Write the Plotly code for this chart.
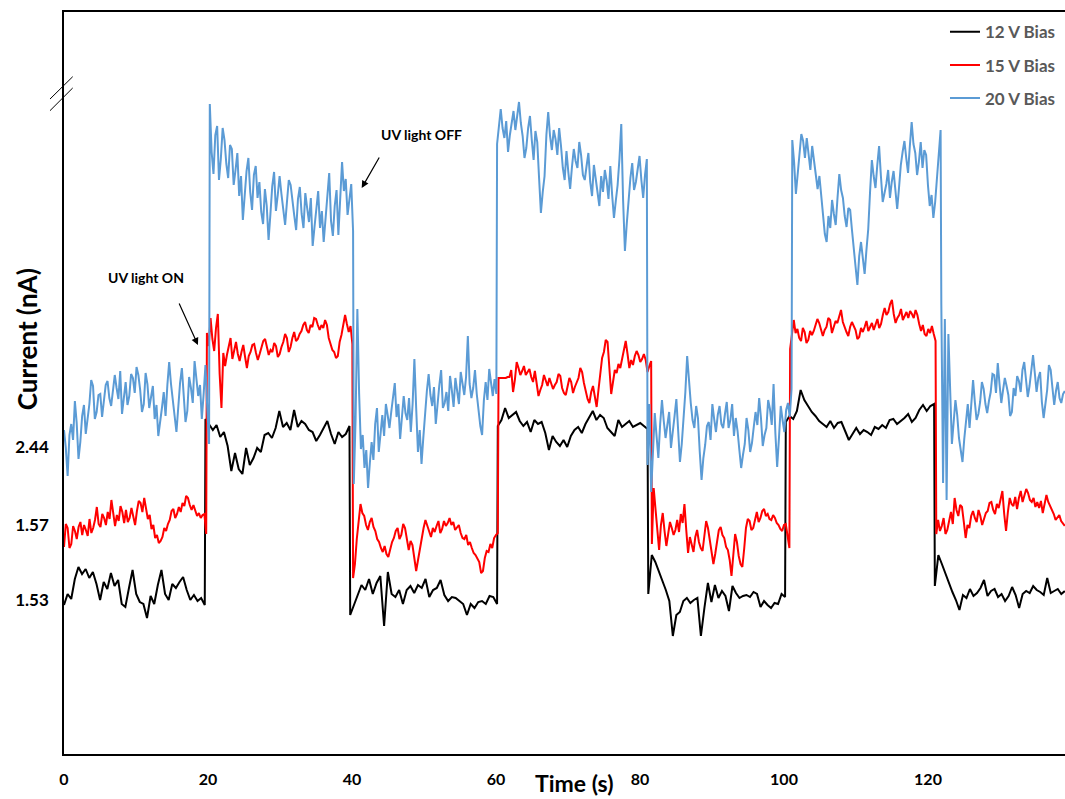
import numpy as np
import plotly.graph_objects as go

# ---------------- data ----------------
# y is expressed in the chart's own (broken) linear scale; the three tick labels
# printed on the original axis are placed at their positions on that scale.
SERIES_NAMES = ["12 V Bias", "15 V Bias", "20 V Bias"]
SERIES_COLORS = ["#000000", "#FF0000", "#5B9BD5"]

Y_TICK_POSITIONS = [15.4, 22.85, 30.7]
Y_TICK_LABELS = ["1.53", "1.57", "2.44"]
X_TICKS = [0, 20, 40, 60, 80, 100, 120]

# switching instants (s) of each trace: start, light on/off edges, end
BIAS12_EDGES = [0, 19.6, 39.7, 60.2, 81.1, 100.2, 120.9, 139.0]
BIAS15_EDGES = [0, 19.8, 40.1, 60.3, 81.6, 100.8, 121.1, 139.0]
BIAS20_EDGES = [0, 20.2, 40.2, 60.1, 81.0, 101.1, 121.8, 139.0]

# 12 V bias (black) - values between successive edges
BIAS12_SEGMENTS = [
    [14.9, 16.0, 15.5, 17.5, 18.7, 18.0, 18.5, 17.6, 18.2, 17.0,
     15.4, 17.2, 16.5, 18.1, 16.8, 17.4, 15.0, 14.7, 16.6, 18.4,
     16.0, 15.2, 15.0, 13.6, 15.8, 15.0, 16.9, 18.4, 16.0, 15.4,
     17.0, 16.6, 17.2, 17.7, 16.4, 15.4, 15.9, 15.3, 15.6, 14.9],
    [33.5, 33.0, 32.4, 32.9, 31.7, 32.2, 30.8, 28.3, 30.1, 28.5,
     28.0, 30.6, 28.9, 29.6, 30.6, 30.2, 31.9, 32.1, 31.6, 32.6,
     34.3, 32.7, 33.1, 32.4, 34.4, 32.7, 33.3, 33.0, 32.4, 32.2,
     31.3, 31.9, 32.6, 33.3, 32.0, 31.0, 32.2, 31.7, 32.0, 32.8],
    [13.9, 14.9, 15.9, 16.9, 16.4, 17.5, 16.0, 17.1, 17.8, 12.8,
     18.2, 16.0, 15.7, 16.4, 15.0, 16.4, 16.8, 16.1, 16.9, 16.6,
     17.5, 15.7, 16.4, 16.6, 17.4, 15.9, 15.3, 15.7, 15.6, 15.3,
     15.0, 13.9, 15.0, 14.6, 15.2, 15.3, 15.0, 15.8, 15.7, 15.0],
    [32.8, 33.4, 34.6, 33.6, 33.9, 34.2, 33.3, 32.8, 33.2,
     32.2, 33.4, 33.0, 33.2, 32.1, 30.4, 31.8, 31.2, 30.8, 31.4,
     30.7, 31.8, 32.4, 32.7, 32.1, 33.0, 33.6, 34.3, 33.4, 33.9,
     33.6, 32.6, 32.2, 31.8, 33.4, 32.7, 33.0, 33.3, 32.7, 32.9,
     33.1, 32.8, 32.5],
    [16.0, 19.9, 19.2, 18.3, 17.3, 16.4, 15.3, 11.8, 13.9, 14.2, 15.3, 15.6,
     15.1, 15.4, 15.6, 11.8, 14.6, 17.1, 15.2, 16.9, 15.6, 16.3,
     15.8, 14.3, 16.8, 16.1, 15.6, 15.8, 15.9, 15.7, 16.2, 16.0,
     14.7, 15.3, 14.9, 14.6, 15.1, 15.0, 16.0, 15.7],
    [33.2, 33.8, 33.5, 34.3, 36.4, 35.4, 34.8, 34.2, 33.8, 33.3,
     33.0, 32.7, 33.3, 32.6, 33.1, 33.2, 32.3, 31.4, 32.0, 32.6,
     32.0, 32.4, 32.2, 31.9, 32.7, 32.5, 32.9, 32.6, 33.4, 33.5,
     33.0, 33.3, 33.6, 34.0, 33.2, 33.6, 34.4, 34.9, 34.3, 34.8,
     35.0],
    [16.8, 19.9, 19.0, 18.0, 17.0, 16.2, 15.4, 14.4, 15.9, 15.6, 16.5,
     15.8, 16.1, 16.6, 17.4, 15.8, 16.3, 16.5, 15.7, 16.0, 15.3,
     15.8, 16.7, 15.9, 14.6, 16.0, 16.3, 16.1, 16.8, 16.4, 16.2,
     15.9, 17.6, 16.1, 16.3, 16.5, 16.0, 16.3],
]

# 15 V bias (red)
BIAS15_SEGMENTS = [
    [20.7, 23.0, 22.6, 20.6, 21.0, 22.8, 22.3, 21.5, 22.7, 23.2,
     21.9, 22.9, 22.4, 21.8, 23.5, 22.1, 22.6, 23.4, 24.7, 23.0,
     22.7, 24.0, 23.6, 22.9, 24.2, 23.5, 25.4, 24.0, 22.8, 23.9,
     23.3, 24.8, 24.2, 23.1, 24.4, 23.2, 23.6, 24.6, 23.8, 22.9,
     24.3, 25.3, 25.1, 24.2, 25.6, 24.6, 23.5, 23.9, 22.5, 22.9,
     21.6, 21.9, 21.1, 21.3, 21.7, 22.6, 22.3, 23.0, 23.4, 24.3,
     24.5, 23.6, 24.0, 24.7, 24.2, 25.1, 24.8, 25.8, 25.6, 24.9,
     24.4, 24.9, 24.3, 23.8, 24.1, 23.6, 23.9, 24.0, 22.0],
    [42.1, 40.8, 43.6, 41.5, 40.3, 42.6, 44.0, 38.0, 34.6, 40.1,
     38.8, 39.9, 40.9, 41.6, 39.5, 40.4, 41.2, 40.0, 39.3, 40.2,
     40.9, 39.7, 38.6, 39.8, 40.2, 40.9, 41.0, 40.1, 39.4, 40.0,
     40.6, 41.3, 41.5, 40.6, 39.9, 40.4, 40.2, 41.1, 40.8, 39.7,
     40.0, 40.7, 41.2, 42.0, 41.6, 40.2, 40.7, 41.6, 42.2, 41.3,
     41.5, 42.0, 42.3, 42.9, 43.2, 42.4, 42.1, 42.9, 42.7, 43.6,
     43.5, 42.9, 42.4, 42.9, 42.6, 43.4, 42.9, 41.6, 41.0, 40.4,
     40.2, 39.6, 39.8, 41.2, 41.9, 43.0, 43.9, 43.0, 42.2, 42.8,
     41.0],
    [17.6, 19.0, 21.5, 23.2, 25.0, 24.1, 23.8, 22.9, 22.4, 23.2,
     23.6, 22.7, 22.3, 21.5, 21.2, 20.6, 20.2, 20.8, 20.0, 19.7,
     20.6, 21.2, 21.6, 22.3, 22.6, 21.5, 21.9, 23.0, 22.6, 21.4,
     20.4, 21.3, 20.9, 19.6, 18.3, 19.4, 20.5, 21.9, 22.6, 23.4,
     22.9, 22.3, 21.7, 22.6, 22.2, 22.8, 23.3, 22.1, 22.5, 23.3,
     22.8, 23.1, 23.6, 22.9, 23.2, 22.4, 22.7, 22.9, 22.1, 21.6,
     21.5, 21.9, 20.9, 21.2, 20.6, 20.1, 19.9, 19.5, 19.2, 18.1,
     18.3, 19.6, 20.3, 20.2, 21.0, 20.6, 21.6, 21.9, 22.1],
    [37.6, 37.6, 37.6, 37.6, 37.6, 37.7, 37.7, 38.4, 36.2, 37.4,
     39.2, 38.6, 37.9, 38.3, 38.8, 37.9, 38.2, 38.5, 37.7, 37.2,
     38.3, 37.0, 35.8, 36.4, 36.9, 37.9, 37.3, 36.8, 37.6, 36.9,
     36.5, 36.9, 37.2, 38.0, 37.8, 36.6, 36.1, 35.9, 36.8, 37.6,
     37.2, 36.1, 36.7, 37.1, 37.6, 38.6, 38.2, 37.1, 36.2, 35.5,
     35.1, 36.2, 36.8, 35.6, 34.7, 36.4, 38.4, 39.6, 40.2, 41.4,
     41.2, 38.0, 36.0, 37.2, 38.4, 38.1, 39.0, 38.6, 39.6, 40.4,
     41.3, 40.0, 38.6, 39.4, 38.9, 39.8, 40.3, 39.9, 39.2, 39.5,
     40.0, 39.4, 38.2, 38.8, 39.3],
    [21.0, 26.6, 24.5, 22.0, 20.4, 22.9, 24.1, 22.3, 20.8, 22.0,
     23.2, 22.6, 21.9, 22.4, 23.4, 22.2, 24.0, 23.1, 25.0, 22.4,
     20.1, 21.7, 20.9, 20.2, 21.7, 22.4, 21.2, 20.6, 20.3, 21.6,
     23.3, 22.6, 21.5, 20.4, 19.0, 20.0, 21.2, 22.4, 22.7, 21.9,
     21.6, 20.7, 20.4, 19.4, 17.8, 20.0, 22.0, 21.2, 19.8, 19.0,
     18.7, 20.5, 22.6, 23.5, 23.3, 22.4, 22.6, 23.4, 24.2, 23.2,
     23.6, 24.3, 24.5, 23.8, 24.0, 23.5, 23.4, 23.9, 23.6, 23.1,
     22.9, 22.5, 22.3, 22.9, 23.0, 21.8, 20.6],
    [40.5, 42.0, 43.4, 42.1, 42.5, 41.6, 41.3, 42.6, 42.2, 41.1,
     41.4, 42.3, 41.9, 42.3, 42.8, 43.5, 43.1, 42.3, 41.8, 42.4,
     42.7, 43.6, 43.4, 42.1, 42.6, 43.3, 43.1, 43.8, 44.4, 43.2,
     42.6, 42.2, 41.8, 42.7, 43.2, 42.8, 42.4, 41.5, 41.7, 42.6,
     42.2, 42.7, 43.3, 42.3, 42.7, 43.1, 42.4, 42.9, 43.5, 42.6,
     43.0, 43.9, 44.6, 43.9, 44.2, 45.0, 45.4, 44.0, 43.1, 43.6,
     43.9, 44.5, 43.4, 43.8, 44.2, 43.6, 44.3, 44.0, 43.6, 44.4,
     43.9, 43.0, 42.3, 42.9, 42.0, 41.8, 42.5, 42.1, 42.8, 42.0,
     41.3],
    [22.0, 23.4, 22.3, 22.8, 23.6, 22.0, 22.4, 23.4, 24.2, 23.0,
     25.6, 24.4, 23.8, 24.9, 24.7, 23.2, 21.6, 22.9, 22.6, 23.8,
     24.3, 23.6, 23.2, 24.4, 23.8, 22.9, 23.4, 24.1, 24.3, 25.1,
     25.2, 24.4, 24.0, 25.0, 24.6, 25.4, 26.3, 24.0, 22.3, 24.2,
     25.6, 25.0, 24.8, 25.7, 24.5, 25.6, 26.3, 25.2, 25.8, 26.5,
     26.1, 25.4, 25.2, 25.6, 24.7, 25.2, 24.6, 25.3, 24.1, 25.0,
     25.9, 25.2, 24.8, 24.4, 24.0, 23.4, 23.6, 23.9, 23.3, 23.0,
     22.8],
]

# 20 V bias (blue)
BIAS20_SEGMENTS = [
    [32.4, 30.6, 27.8, 31.9, 33.0, 31.4, 35.3, 33.1, 29.5, 31.2,
     33.8, 34.9, 32.0, 33.6, 35.0, 37.4, 36.8, 33.5, 34.2, 35.9,
     36.0, 33.7, 35.2, 36.9, 37.3, 35.6, 34.8, 36.2, 37.9, 36.6,
     35.5, 38.3, 34.0, 35.6, 37.2, 34.9, 35.8, 38.0, 37.6, 36.1,
     38.7, 37.9, 36.4, 34.2, 35.0, 38.1, 37.0, 34.6, 35.9, 36.8,
     33.5, 34.9, 31.8, 33.0, 34.6, 36.2, 33.8, 36.9, 39.2, 37.0,
     35.6, 33.8, 32.2, 35.2, 37.1, 38.6, 35.4, 33.2, 34.3, 37.7,
     36.6, 35.1, 39.3, 37.5, 35.8, 36.9, 33.5, 36.0, 38.9, 34.6,
     31.0],
    [65.0, 60.2, 58.0, 61.9, 62.8, 57.4, 59.5, 62.6, 61.4, 59.0,
     57.6, 60.9, 60.5, 56.9, 58.4, 60.1, 55.8, 57.8, 53.4, 55.6,
     58.3, 59.6, 56.2, 54.4, 57.9, 58.8, 55.6, 57.2, 54.2, 53.0,
     56.5, 54.8, 51.4, 54.0, 56.8, 58.2, 54.3, 55.9, 57.8, 56.0,
     54.6, 52.9, 55.2, 57.4, 56.9, 55.0, 53.8, 52.4, 55.5, 56.7,
     54.0, 52.6, 56.1, 54.6, 53.2, 55.6, 50.8, 52.7, 54.9, 56.3,
     52.6, 54.3, 51.2, 53.6, 56.6, 58.1, 53.3, 51.8, 54.8, 56.4,
     51.9, 55.8, 59.2, 56.3, 57.5, 53.9, 55.4, 57.0, 52.3],
    [27.0, 33.5, 44.5, 36.0, 30.5, 31.9, 28.6, 30.4, 26.6, 29.1,
     31.2, 29.4, 33.0, 34.6, 30.2, 32.0, 33.9, 31.8, 35.0, 33.9,
     32.6, 34.2, 35.4, 37.1, 33.7, 35.0, 31.5, 33.9, 35.8, 34.1,
     33.4, 35.6, 32.2, 35.0, 39.5, 34.6, 30.2, 32.4, 29.0, 31.6,
     34.4, 36.3, 38.0, 35.9, 34.8, 36.7, 33.0, 35.2, 36.9, 38.4,
     34.6, 35.1, 36.2, 34.3, 37.8, 36.4, 34.7, 37.6, 36.0, 35.0,
     38.2, 36.8, 35.9, 37.7, 41.8, 37.0, 35.6, 36.6, 38.4, 36.0,
     34.4, 32.8, 31.9, 35.4, 37.2, 35.4, 38.5, 37.0, 35.8, 37.5,
     36.0],
    [61.0, 63.0, 64.5, 62.6, 61.6, 63.3, 60.2, 61.9, 63.4, 64.3,
     62.4, 63.6, 65.2, 63.1, 61.8, 59.6, 60.6, 62.6, 63.8, 61.4,
     59.4, 62.3, 61.2, 57.6, 54.1, 56.2, 57.8, 61.9, 64.2, 61.8,
     60.4, 62.4, 61.5, 59.9, 62.6, 60.8, 58.6, 57.4, 60.3, 58.2,
     56.5, 58.7, 60.5, 59.3, 58.6, 61.2, 59.9, 57.9, 57.4, 58.8,
     60.1, 57.2, 55.8, 58.9, 57.6, 56.1, 54.8, 57.8, 56.2, 58.4,
     57.3, 55.5, 58.8, 55.9, 53.6, 55.3, 56.9, 59.5, 63.0, 55.4,
     50.3, 53.0, 55.6, 57.6, 59.1, 56.4, 57.2, 58.5, 59.8, 57.4,
     55.6, 57.9, 59.5],
    [28.9, 35.0, 26.2, 30.8, 34.1, 31.8, 29.6, 33.0, 35.4, 33.3,
     31.6, 32.9, 34.2, 30.6, 32.0, 33.8, 35.5, 32.1, 29.2, 31.0,
     33.5, 36.2, 39.8, 37.2, 35.1, 33.4, 32.6, 34.8, 33.6, 30.2,
     27.4, 29.6, 30.9, 32.8, 33.2, 31.4, 35.0, 33.5, 32.2, 33.9,
     34.8, 33.0, 32.6, 34.0, 35.2, 32.6, 33.4, 35.0, 31.8, 33.6,
     32.3, 30.4, 28.6, 29.9, 31.0, 33.6, 32.4, 30.2, 31.1, 32.7,
     34.2, 32.9, 35.6, 33.6, 30.8, 31.9, 32.6, 35.4, 34.5, 32.9,
     37.0, 32.1, 28.7, 31.6, 34.8, 33.4, 32.2, 34.4, 35.1, 33.7,
     36.5],
    [61.4, 59.2, 56.0, 58.0, 60.4, 62.0, 61.3, 59.6, 61.6, 60.1,
     58.4, 60.8, 59.5, 57.9, 56.5, 57.8, 55.6, 54.0, 52.0, 51.2,
     53.8, 52.6, 55.4, 54.0, 52.9, 55.6, 58.0, 56.4, 55.6, 53.8,
     52.7, 54.6, 54.4, 52.4, 50.8, 48.7, 46.9, 49.8, 51.2, 49.6,
     48.0, 50.4, 52.5, 56.2, 59.4, 57.8, 56.6, 58.9, 60.8, 57.8,
     55.2, 56.1, 57.0, 58.4, 55.6, 57.2, 58.3, 56.4, 54.5, 56.6,
     58.9, 60.2, 61.3, 59.6, 58.1, 60.8, 63.2, 61.0, 60.1, 57.9,
     59.2, 61.2, 58.6, 60.4, 59.9, 56.9, 54.8, 55.9, 53.6, 55.2,
     57.4, 60.3, 62.4],
    [45.0, 27.1, 43.5, 25.4, 42.0, 35.6, 31.0, 33.2, 35.4, 33.9,
     31.6, 30.4, 29.2, 31.5, 33.6, 35.0, 32.6, 34.8, 37.4, 35.2,
     33.4, 34.0, 35.2, 37.2, 36.5, 35.0, 34.1, 35.3, 36.2, 38.0,
     37.9, 36.1, 39.1, 37.0, 35.1, 36.4, 37.6, 36.8, 35.9, 33.8,
     34.2, 36.6, 35.8, 37.8, 37.3, 36.2, 38.4, 39.2, 37.6, 35.7,
     36.8, 38.4, 39.9, 38.1, 36.2, 37.6, 38.2, 35.2, 33.6, 35.0,
     36.4, 38.9, 38.4, 36.6, 34.9, 36.3, 37.2, 35.6, 35.1, 36.0,
     36.3],
]

ALL_EDGES = [BIAS12_EDGES, BIAS15_EDGES, BIAS20_EDGES]
ALL_SEGMENTS = [BIAS12_SEGMENTS, BIAS15_SEGMENTS, BIAS20_SEGMENTS]


def build_series(edges, segments):
    """Spread each segment's samples evenly between its two switching edges."""
    xs, ys = [], []
    last = len(segments) - 1
    for k, vals in enumerate(segments):
        t0 = edges[k] + (0.05 if k > 0 else 0.0)
        t1 = edges[k + 1] - (0.05 if k < last else 0.0)
        xs.extend(np.linspace(t0, t1, len(vals)).round(3).tolist())
        ys.extend(vals)
    return xs, ys


FONT = "Lato, 'Open Sans', 'DejaVu Sans', sans-serif"

fig = go.Figure()
for i, (name, color) in enumerate(zip(SERIES_NAMES, SERIES_COLORS)):
    xs, ys = build_series(ALL_EDGES[i], ALL_SEGMENTS[i])
    fig.add_trace(go.Scatter(
        x=xs, y=ys, mode="lines", name=name,
        legendgroup=name,
        line=dict(color=color, width=2),
        hoverinfo="skip",
    ))

X_MAX = (1065 - 64) / 7.2
Y_MAX = 74.2

fig.update_layout(
    width=1065, height=799,
    margin=dict(l=64, r=0, t=12, b=45),
    paper_bgcolor="white", plot_bgcolor="white",
    font=dict(family=FONT, color="black"),
    showlegend=True,
    legend=dict(
        x=0.995, xanchor="right", y=0.997, yanchor="top",
        bgcolor="rgba(0,0,0,0)",
        font=dict(size=17, color="#595959", family=FONT, weight="bold"),
        traceorder="grouped", tracegroupgap=8,
        itemwidth=30,
    ),
    xaxis=dict(
        range=[0, X_MAX], showgrid=False, zeroline=False,
        showline=True, linecolor="black", linewidth=2, mirror=True,
        tickmode="array", tickvals=X_TICKS,
        ticktext=[str(v) for v in X_TICKS],
        ticks="", ticklabelstandoff=10,
        tickfont=dict(size=16, family=FONT, weight="bold", color="black"),
    ),
    yaxis=dict(
        range=[0, Y_MAX], showgrid=False, zeroline=False,
        showline=True, linecolor="black", linewidth=1.5, mirror=False,
        tickmode="array", tickvals=Y_TICK_POSITIONS, ticktext=Y_TICK_LABELS,
        ticks="", ticklabelstandoff=10,
        tickfont=dict(size=17, family=FONT, weight="bold", color="black"),
    ),
)

# axis titles
fig.add_annotation(text="Time (s)", xref="paper", yref="paper",
                   x=0.5095, y=-0.0385, xanchor="center", yanchor="middle",
                   showarrow=False,
                   font=dict(size=23, family=FONT, weight="bold", color="black"))
fig.add_annotation(text="Current (nA)", xref="paper", yref="paper",
                   x=-0.037, y=0.559, xanchor="center", yanchor="middle",
                   textangle=-90, showarrow=False,
                   font=dict(size=26, family=FONT, weight="bold", color="black"))

# UV light annotations
fig.add_annotation(text="UV light ON", x=11.4, y=47.7, xref="x", yref="y",
                   showarrow=False,
                   font=dict(size=14, family=FONT, weight="bold", color="black"))
fig.add_annotation(text="", x=18.6, y=40.9, ax=15.9, ay=45.2,
                   xref="x", yref="y", axref="x", ayref="y",
                   showarrow=True, arrowhead=2, arrowsize=1.2, arrowwidth=1.2,
                   arrowcolor="black")
fig.add_annotation(text="UV light OFF", x=49.7, y=62.0, xref="x", yref="y",
                   showarrow=False,
                   font=dict(size=14, family=FONT, weight="bold", color="black"))
fig.add_annotation(text="", x=41.35, y=56.6, ax=43.9, ay=59.8,
                   xref="x", yref="y", axref="x", ayref="y",
                   showarrow=True, arrowhead=2, arrowsize=1.2, arrowwidth=1.2,
                   arrowcolor="black")

# axis break marks "//"
for y0, y1 in [(0.8827, 0.9128), (0.867, 0.8976)]:
    fig.add_shape(type="line", xref="paper", yref="paper",
                  x0=-0.014, y0=y0, x1=0.0087, y1=y1,
                  line=dict(color="black", width=1))

fig.write_html(
    "out.html",
    config={"displayModeBar": False},
    post_script="document.body.style.margin='0px';document.body.style.overflow='hidden';",
)
